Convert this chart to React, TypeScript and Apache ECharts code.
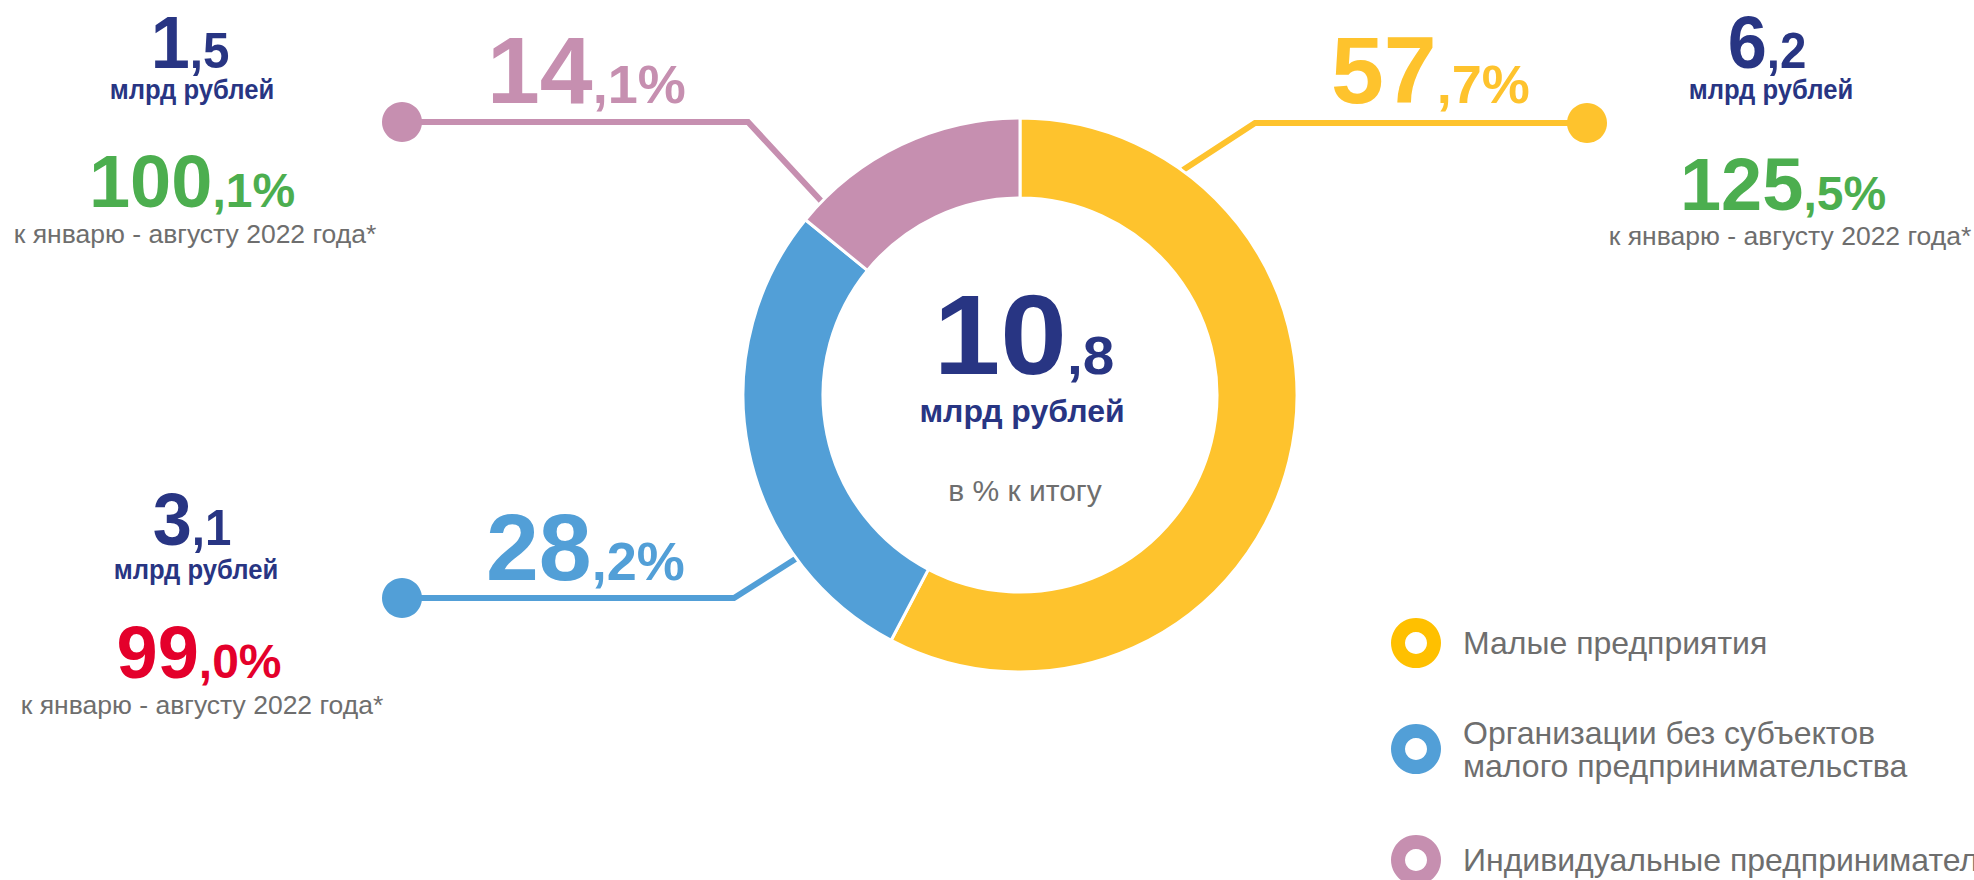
import React, { useEffect, useRef } from 'react';
import * as echarts from 'echarts';

// ---------- data ----------
const categories = [
  'Малые предприятия',
  'Организации без субъектов\nмалого предпринимательства',
  'Индивидуальные предприниматели',
];
const sharePercent = [57.7, 28.2, 14.1];
const amountBln = [6.2, 3.1, 1.5];
const growthPercent = [125.5, 99.0, 100.1];
const totalBln = 10.8;
const unitLabel = 'млрд рублей';
const compareLabel = 'к январю - августу 2022 года*';
const centerCaption = 'в % к итогу';

// ---------- styles ----------
const pieColors = ['#FEC32D', '#529FD7', '#C68FB0'];
const legendColors = ['#FFC000', '#529FD7', '#C68FB0'];
const NAVY = '#283583';
const GREEN = '#4CAE4F';
const RED = '#E4002B';
const GRAY = '#6E6E6E';
const FONT = '"Liberation Sans", Arial, Helvetica, sans-serif';
const C = 0.3465; // central-baseline offset (em)

const PIE_CENTER = [1020, 395];
const PIE_RADIUS = [197, 277];

// layout per category (0 yellow, 1 blue, 2 pink)
const shareLabelPos = [
  { x: 1331, y: 103 },
  { x: 486, y: 580 },
  { x: 487, y: 103 },
];
const leaders = [
  { from: [1183, 170], elbow: [1255, 123], dot: [1587, 123] },
  { from: [797, 558], elbow: [734, 598], dot: [402, 598] },
  { from: [823, 203], elbow: [748, 122], dot: [402, 122] },
];
const infoPos = [
  { ax: 1767, ux: 1771, gx: 1783, cx: 1790, amtY: 68, unitY: 99, growY: 210, capY: 245 },
  { ax: 192, ux: 196, gx: 199, cx: 202, amtY: 545, unitY: 579, growY: 678, capY: 714 },
  { ax: 190, ux: 192, gx: 192, cx: 195, amtY: 68, unitY: 99, growY: 207, capY: 243 },
];
const legendPos = { ringX: 1416, textX: 1463, ys: [643, 749, 860] };

let ctx: CanvasRenderingContext2D | null = null;
function measure(text: string, size: number, weight: string) {
  if (!ctx) ctx = document.createElement('canvas').getContext('2d');
  ctx!.font = `${weight} ${size}px ${FONT}`;
  return ctx!.measureText(text).width;
}

function splitNum(v: number, suffix = ''): [string, string] {
  const s = v.toFixed(1).replace('.', ',');
  const i = s.indexOf(',');
  return [s.slice(0, i), s.slice(i) + suffix];
}

function twoPart(
  anchorX: number, baseline: number, parts: [string, string],
  bigSize: number, smallSize: number, color: string,
  align: 'left' | 'center', sx: number
) {
  const [big, small] = parts;
  const wb = measure(big, bigSize, 'bold');
  const ws = measure(small, smallSize, 'bold');
  const total = (wb + ws) * sx;
  const left = align === 'left' ? anchorX : anchorX - total / 2;
  const st = (t: string, fs: number) => ({
    text: t, fontSize: fs, fontWeight: 'bold', fontFamily: FONT, fill: color,
    align: 'left', verticalAlign: 'middle',
  });
  return {
    type: 'group', x: left, y: baseline, scaleX: sx, silent: true,
    children: [
      { type: 'text', x: 0, y: -C * bigSize, style: st(big, bigSize) },
      { type: 'text', x: wb, y: -C * smallSize, style: st(small, smallSize) },
    ],
  };
}

function oneLine(x: number, baseline: number, text: string, size: number, weight: string, color: string, sx = 1) {
  return {
    type: 'group', x, y: baseline, scaleX: sx, silent: true,
    children: [
      {
        type: 'text', x: 0, y: -C * size,
        style: {
          text, fontSize: size, fontWeight: weight, fontFamily: FONT, fill: color,
          align: 'center', verticalAlign: 'middle',
        },
      },
    ],
  };
}

function buildGraphics() {
  const els: any[] = [];
  categories.forEach((name, i) => {
    const L = leaders[i];
    els.push({
      type: 'polyline', silent: true,
      shape: { points: [L.from, L.elbow, L.dot] },
      style: { stroke: pieColors[i], lineWidth: 6, fill: null, lineJoin: 'miter' },
    });
    els.push({
      type: 'circle', silent: true,
      shape: { cx: L.dot[0], cy: L.dot[1], r: 20 },
      style: { fill: pieColors[i] },
    });
    const sp = shareLabelPos[i];
    els.push(twoPart(sp.x, sp.y, splitNum(sharePercent[i], '%'), 95, 54, pieColors[i], 'left', 1.0));
    const ip = infoPos[i];
    els.push(twoPart(ip.ax, ip.amtY, splitNum(amountBln[i]), 74, 50, NAVY, 'center', 0.95));
    els.push(oneLine(ip.ux, ip.unitY, unitLabel, 27, 'bold', NAVY, 0.95));
    els.push(twoPart(ip.gx, ip.growY, splitNum(growthPercent[i], '%'), 74, 48,
      growthPercent[i] >= 100 ? GREEN : RED, 'center', 1.0));
    els.push(oneLine(ip.cx, ip.capY, compareLabel, 26.5, 'normal', GRAY, 1.0));

    // legend entry
    const ly = legendPos.ys[i];
    els.push({
      type: 'ring', silent: true,
      shape: { cx: legendPos.ringX, cy: ly, r: 25, r0: 11 },
      style: { fill: legendColors[i] },
    });
    els.push({
      type: 'text', silent: true, x: legendPos.textX, y: ly,
      style: {
        text: name, fontSize: 32, fontFamily: FONT, fill: GRAY, lineHeight: 33,
        align: 'left', verticalAlign: 'middle',
      },
    });
  });
  els.push(twoPart(1024, 374, splitNum(totalBln), 114, 54, NAVY, 'center', 1.05));
  els.push(oneLine(1022, 422, unitLabel, 32, 'bold', NAVY, 1.0));
  els.push(oneLine(1025, 501, centerCaption, 30, 'normal', GRAY, 1.0));
  return els;
}

export default function App() {
  const ref = useRef<HTMLDivElement>(null);
  useEffect(() => {
    document.body.style.margin = '0';
    const chart = echarts.init(ref.current!, null, { renderer: 'svg' });
    chart.setOption({
      animation: false,
      backgroundColor: '#ffffff',
      series: [
        {
          type: 'pie',
          radius: PIE_RADIUS,
          center: PIE_CENTER,
          startAngle: 90,
          clockwise: true,
          silent: true,
          label: { show: false },
          labelLine: { show: false },
          itemStyle: { borderColor: '#ffffff', borderWidth: 3 },
          data: categories.map((n, i) => ({
            name: n, value: sharePercent[i], itemStyle: { color: pieColors[i] },
          })),
        },
      ],
      graphic: { elements: buildGraphics() },
    });
    return () => chart.dispose();
  }, []);
  return (
    <div
      ref={ref}
      style={{ position: 'absolute', left: 0, top: 0, width: '1974px', height: '880px' }}
    />
  );
}
